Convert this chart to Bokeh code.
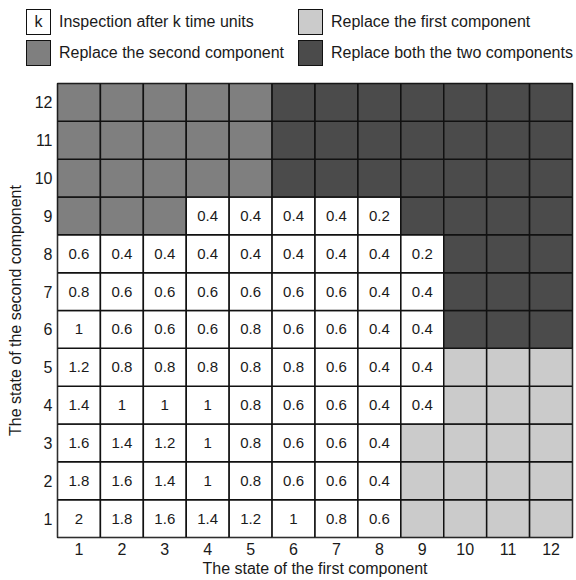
from bokeh.plotting import figure
from bokeh.models import ColumnDataSource, Range1d, FixedTicker, Div
from bokeh.layouts import column
from bokeh.core.properties import value
from bokeh.embed import file_html
from bokeh.resources import INLINE

FONT = "Liberation Sans"

# ---- data -------------------------------------------------------------
states = [1, 2, 3, 4, 5, 6, 7, 8, 9, 10, 11, 12]
tick_labels = ["1", "2", "3", "4", "5", "6", "7", "8", "9", "10", "11", "12"]

# each row: state of the second component; entries per state of the first component
# number = inspection after k time units, "R1" replace first, "R2" replace second, "B" replace both
row_12 = ["R2", "R2", "R2", "R2", "R2", "B", "B", "B", "B", "B", "B", "B"]
row_11 = ["R2", "R2", "R2", "R2", "R2", "B", "B", "B", "B", "B", "B", "B"]
row_10 = ["R2", "R2", "R2", "R2", "R2", "B", "B", "B", "B", "B", "B", "B"]
row_9 = ["R2", "R2", "R2", 0.4, 0.4, 0.4, 0.4, 0.2, "B", "B", "B", "B"]
row_8 = [0.6, 0.4, 0.4, 0.4, 0.4, 0.4, 0.4, 0.4, 0.2, "B", "B", "B"]
row_7 = [0.8, 0.6, 0.6, 0.6, 0.6, 0.6, 0.6, 0.4, 0.4, "B", "B", "B"]
row_6 = [1, 0.6, 0.6, 0.6, 0.8, 0.6, 0.6, 0.4, 0.4, "B", "B", "B"]
row_5 = [1.2, 0.8, 0.8, 0.8, 0.8, 0.8, 0.6, 0.4, 0.4, "R1", "R1", "R1"]
row_4 = [1.4, 1, 1, 1, 0.8, 0.6, 0.6, 0.4, 0.4, "R1", "R1", "R1"]
row_3 = [1.6, 1.4, 1.2, 1, 0.8, 0.6, 0.6, 0.4, "R1", "R1", "R1", "R1"]
row_2 = [1.8, 1.6, 1.4, 1, 0.8, 0.6, 0.6, 0.4, "R1", "R1", "R1", "R1"]
row_1 = [2, 1.8, 1.6, 1.4, 1.2, 1, 0.8, 0.6, "R1", "R1", "R1", "R1"]

rows = {1: row_1, 2: row_2, 3: row_3, 4: row_4, 5: row_5, 6: row_6,
        7: row_7, 8: row_8, 9: row_9, 10: row_10, 11: row_11, 12: row_12}

legend_keys = ["K", "R1", "R2", "B"]
legend_labels = ["Inspection after k time units", "Replace the first component",
                 "Replace the second component", "Replace both the two components"]

colors = {"K": "#ffffff", "R1": "#cbcbcb", "R2": "#7f7f7f", "B": "#4b4b4b"}
INK = "#1a1a1a"
LINE = "#111111"

# ---- main grid --------------------------------------------------------
xs, ys, fills, txt_x, txt_y, txt = [], [], [], [], [], []
for s2, row in rows.items():
    for s1, v in zip(states, row):
        xs.append(s1)
        ys.append(s2)
        if isinstance(v, str):
            fills.append(colors[v])
        else:
            fills.append(colors["K"])
            txt_x.append(s1)
            txt_y.append(s2)
            txt.append(f"{v:g}")

p = figure(width=576, height=500, output_backend="svg", toolbar_location=None,
           x_range=Range1d(0.5, 12.5), y_range=Range1d(0.5, 12.5),
           min_border_left=57, min_border_right=4, min_border_top=3, min_border_bottom=43)
p.outline_line_color = LINE
p.outline_line_width = 1.5
p.grid.visible = False

p.rect(x="x", y="y", width=1, height=1, fill_color="fill", line_color=LINE, line_width=1.5,
       source=ColumnDataSource(dict(x=xs, y=ys, fill=fills)))
p.text(x="x", y="y", text="t", source=ColumnDataSource(dict(x=txt_x, y=txt_y, t=txt)),
       text_align="center", text_baseline="middle", text_font=value(FONT),
       text_font_size="15px", text_color=INK)

for ax in (p.xaxis[0], p.yaxis[0]):
    ax.ticker = FixedTicker(ticks=states)
    ax.major_label_overrides = {s: l for s, l in zip(states, tick_labels)}
    ax.axis_line_color = None
    ax.major_tick_line_color = None
    ax.minor_tick_line_color = None
    ax.major_tick_out = 0
    ax.major_tick_in = 0
    ax.major_label_text_font = FONT
    ax.major_label_text_font_size = "16px"
    ax.major_label_text_color = INK
    ax.axis_label_text_font = FONT
    ax.axis_label_text_font_size = "16px"
    ax.axis_label_text_font_style = "normal"
    ax.axis_label_text_color = INK

p.xaxis.axis_label = "The state of the first component"
p.yaxis.axis_label = "The state of the second component"
p.xaxis.major_label_standoff = 5
p.xaxis.axis_label_standoff = 2
p.yaxis.major_label_standoff = 5
p.yaxis.axis_label_standoff = 8

# ---- legend (above the grid) ------------------------------------------
box_left = [26, 298, 26, 298]
box_top = [9, 9, 40, 40]
marks = ["k", "", "", ""]
parts = []
for key, lab, bx, by, mk in zip(legend_keys, legend_labels, box_left, box_top, marks):
    parts.append(
        f'<div style="position:absolute;left:{bx}px;top:{by}px;width:25px;height:26px;'
        f'box-sizing:border-box;border:1.5px solid {LINE};background:{colors[key]};'
        f'text-align:center;line-height:23px;font-size:16px;">{mk}</div>')
    parts.append(
        f'<div style="position:absolute;left:{bx + 33}px;top:{by}px;height:26px;'
        f'line-height:26px;font-size:16px;white-space:nowrap;">{lab}</div>')
legend_html = (f'<div style="position:relative;width:576px;height:80px;font-family:\'{FONT}\';'
               f'color:{INK};">' + "".join(parts) + "</div>")
legend = Div(text=legend_html, width=576, height=80, margin=(0, 0, 0, 0))

layout = column(legend, p, spacing=0)
open("out.html", "w").write(file_html(layout, INLINE))
